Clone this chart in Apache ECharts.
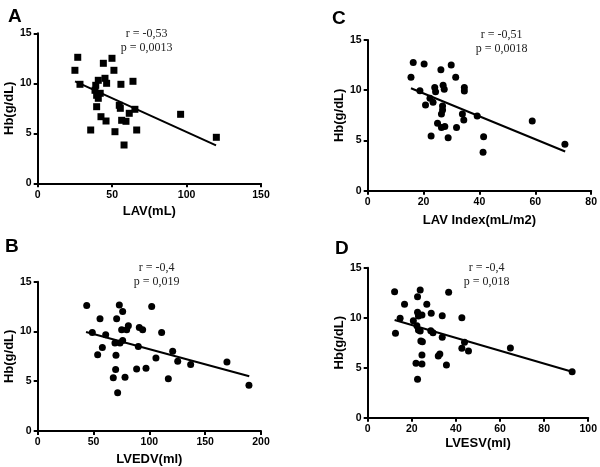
<!DOCTYPE html>
<html><head><meta charset="utf-8">
<script src="https://cdn.jsdelivr.net/npm/echarts@6/dist/echarts.min.js"></script>
<style>html,body{margin:0;padding:0;background:#fff}#c{width:600px;height:467px}</style>
</head><body><div id="c"></div>
<script>
// Panel A: LAV(mL) vs Hb
const lavX = [26.9,25.0,49.9,44.1,51.2,28.4,40.7,45.2,46.3,55.9,64.0,38.5,39.6,40.7,42.0,39.0,39.6,54.8,55.5,65.3,61.5,42.5,45.9,56.4,59.3,35.6,51.9,66.5,58.0,96.0,120.0];
const lavY = [12.6,11.3,12.5,12.0,11.3,9.9,10.3,10.5,10.0,9.9,10.2,9.3,8.8,8.5,9.0,9.8,7.66,7.8,7.5,7.4,7.0,6.66,6.23,6.3,6.2,5.33,5.16,5.33,3.83,6.9,4.6];
const lavFit = [[25.1,10.2],[119.8,3.8]];
// Panel C: LAV Index(mL/m2) vs Hb
const laviX = [16.3,20.2,29.9,26.2,15.5,31.5,18.7,24.0,24.3,27.0,27.4,34.6,34.6,22.3,23.4,20.7,26.8,26.8,26.4,33.9,34.4,39.2,25.0,26.4,27.6,31.8,22.7,28.8,41.5,41.3,58.9,70.6];
const laviY = [12.75,12.6,12.5,12.05,11.3,11.3,9.96,10.26,9.86,10.5,10.1,10.26,9.93,9.2,8.8,8.54,8.44,8.04,7.64,7.64,7.04,7.44,6.71,6.28,6.38,6.28,5.45,5.28,5.38,3.82,6.94,4.62];
const laviFit = [[15.5,10.2],[70.7,3.9]];
// Panel B: LVEDV(ml) vs Hb
const edvX = [43.9,73.1,102.1,76.1,55.8,70.7,81.2,79.7,75.2,91.0,94.0,111.0,48.9,60.9,69.2,73.7,76.1,90.1,57.9,53.7,70.1,105.9,120.9,125.4,69.8,88.6,97.0,67.7,78.2,117.0,71.6,137.0,169.5,189.2];
const edvY = [12.6,12.67,12.5,12.0,11.27,11.27,10.57,10.17,10.17,10.4,10.17,9.9,9.9,9.67,8.84,8.84,9.1,8.5,8.4,7.67,7.6,7.34,8.0,7.0,6.17,6.24,6.3,5.34,5.4,5.24,3.84,6.67,6.94,4.6];
const edvFit = [[43.3,9.94],[189.5,5.5]];
// Panel D: LVESV(ml) vs Hb
const esvX = [12.2,23.8,22.6,36.7,16.7,26.8,22.6,24.6,23.0,28.8,33.8,42.7,14.7,20.7,22.3,23.0,23.8,12.6,28.6,29.6,33.8,24.1,24.8,43.9,42.7,45.7,24.6,32.0,32.7,21.9,24.6,35.7,22.6,64.7,92.7];
const esvY = [12.6,12.77,12.1,12.54,11.34,11.34,10.54,10.27,10.17,10.44,10.2,10.0,9.94,9.7,9.2,8.77,8.67,8.44,8.7,8.5,8.04,7.67,7.6,7.54,6.94,6.67,6.27,6.17,6.37,5.44,5.37,5.27,3.84,6.97,4.6];
const esvFit = [[12.2,9.77],[92.7,4.6]];

const yTicks = {min:0,max:15,interval:5};
const panels = [
  {letter:'A', lx:3,ly:2, r:'r = -0,53', p:'p = 0,0013', ax:141.7, ay:22,
   grid:{left:37.7,top:33.3,width:223.3,height:150}, xmin:0,xmax:150,xint:50, xname:'LAV(mL)', xgap:22, ygap:22,
   xs:lavX, ys:lavY, fit:lavFit, sym:'rect', size:7},
  {letter:'C', lx:327,ly:4, r:'r = -0,51', p:'p = 0,0018', ax:496.7, ay:23,
   grid:{left:367.7,top:40,width:224,height:150.7}, xmin:0,xmax:80,xint:20, xname:'LAV Index(mL/m2)', xgap:23, ygap:19,
   xs:laviX, ys:laviY, fit:laviFit, sym:'circle', size:7},
  {letter:'B', lx:0,ly:232, r:'r = -0,4', p:'p = 0,019', ax:151.7, ay:256,
   grid:{left:37.7,top:281.7,width:223.3,height:150}, xmin:0,xmax:200,xint:50, xname:'LVEDV(ml)', xgap:22, ygap:22,
   xs:edvX, ys:edvY, fit:edvFit, sym:'circle', size:7},
  {letter:'D', lx:330,ly:234, r:'r = -0,4', p:'p = 0,018', ax:481.7, ay:255.5,
   grid:{left:367.7,top:267.7,width:224,height:150}, xmin:0,xmax:100,xint:20, xname:'LVESV(ml)', xgap:19, ygap:19,
   xs:esvX, ys:esvY, fit:esvFit, sym:'circle', size:7}
];

const axisLine = {show:true, lineStyle:{color:'#000', width:2}};
const axisTick = {show:true, inside:false, length:4, lineStyle:{color:'#000', width:2}};
const tickLabel = {color:'#000', fontFamily:'Liberation Sans, Arial', fontWeight:'bold', fontSize:10.5, margin:6};
const nameStyle = {color:'#000', fontFamily:'Liberation Sans, Arial', fontWeight:'bold', fontSize:13};

const option = {animation:false, backgroundColor:'#fff', grid:[], xAxis:[], yAxis:[], series:[], title:[]};
panels.forEach((pn,i)=>{
  option.grid.push(Object.assign({containLabel:false}, pn.grid));
  option.xAxis.push({type:'value', gridIndex:i, min:pn.xmin, max:pn.xmax, interval:pn.xint,
    name:pn.xname, nameLocation:'middle', nameGap:pn.xgap, nameTextStyle:nameStyle,
    axisLine, axisTick, axisLabel:tickLabel, splitLine:{show:false}});
  option.yAxis.push({type:'value', gridIndex:i, min:yTicks.min, max:yTicks.max, interval:yTicks.interval,
    name:'Hb(g/dL)', nameLocation:'middle', nameGap:pn.ygap, nameTextStyle:nameStyle,
    axisLine, axisTick, axisLabel:tickLabel, splitLine:{show:false}});
  option.series.push({type:'scatter', xAxisIndex:i, yAxisIndex:i, symbol:pn.sym, symbolSize:pn.size,
    itemStyle:{color:'#000', opacity:1}, data:pn.xs.map((x,k)=>[x,pn.ys[k]]), z:3});
  option.series.push({type:'line', xAxisIndex:i, yAxisIndex:i, showSymbol:false, symbol:'none',
    lineStyle:{color:'#000', width:2}, data:pn.fit, z:4});
  option.title.push({text:pn.letter, left:pn.lx, top:pn.ly,
    textStyle:{fontFamily:'Liberation Sans, Arial', fontWeight:'bold', fontSize:19, color:'#000'}});
  option.title.push({text:pn.r+'\n'+pn.p, left:pn.ax, top:pn.ay, textAlign:'center',
    textStyle:{fontFamily:'Liberation Serif, Times New Roman', fontWeight:'normal', fontSize:12, color:'#222', lineHeight:14}});
});
const chart = echarts.init(document.getElementById('c'), null, {renderer:'canvas'});
chart.setOption(option);
</script></body></html>
